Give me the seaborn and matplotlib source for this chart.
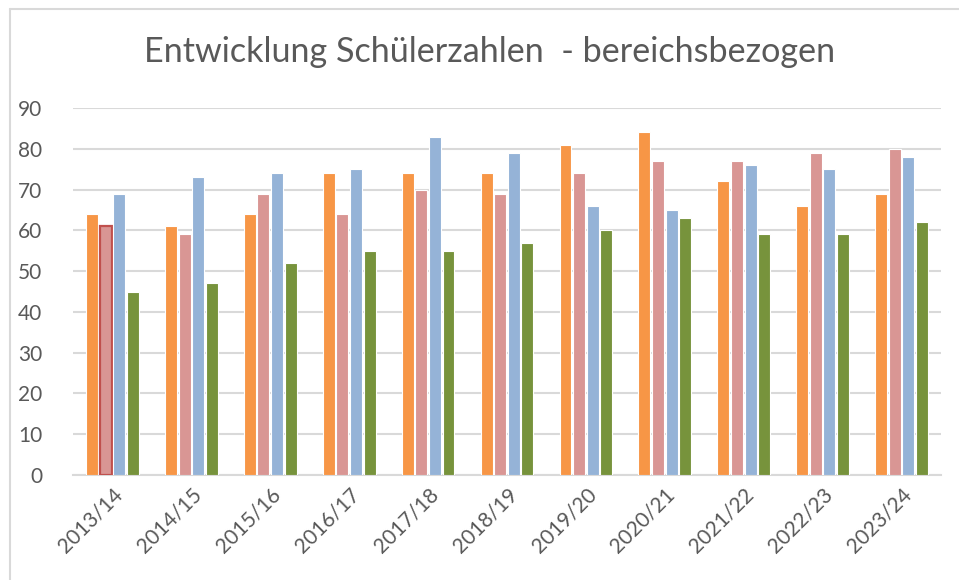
import pandas as pd
import seaborn as sns
import matplotlib.pyplot as plt
from matplotlib.lines import Line2D

jahre = ['2013/14', '2014/15', '2015/16', '2016/17', '2017/18', '2018/19',
         '2019/20', '2020/21', '2021/22', '2022/23', '2023/24']
bereich1 = [64, 61, 64, 74, 74, 74, 81, 84, 72, 66, 69]
bereich2 = [61, 59, 69, 64, 70, 69, 74, 77, 77, 79, 80]
bereich3 = [69, 73, 74, 75, 83, 79, 66, 65, 76, 75, 78]
bereich4 = [45, 47, 52, 55, 55, 57, 60, 63, 59, 59, 62]
farben = ['#F79646', '#D99694', '#95B3D7', '#77933C']

base = pd.DataFrame({'Jahr': jahre, 'Bereich 1': bereich1, 'Bereich 2': bereich2,
                     'Bereich 3': bereich3, 'Bereich 4': bereich4})
base = base.melt(id_vars='Jahr', var_name='Bereich', value_name='Schueler')

sns.set_theme(style='white')
plt.rcParams['font.family'] = ['Lato', 'DejaVu Sans']

fig = plt.figure(figsize=(9.59, 5.8), dpi=100)
ax = fig.add_axes([73/959, 1-475/580, (941-73)/959, (475-108)/580])

sns.barplot(data=base, x='Jahr', y='Schueler', hue='Bereich', palette=farben,
            saturation=1, width=0.69, gap=0.12, edgecolor='white', linewidth=0.8,
            legend=False, ax=ax, zorder=3)

# erster Balken Bereich 2 ist rot umrandet
rot = ax.containers[1].patches[0]
rot.set_edgecolor('#C0504D')
rot.set_linewidth(1.6)

ax.set_ylim(0, 90)
ax.set_yticks(range(0, 91, 10))
ax.set_xlim(-0.5, len(jahre) - 0.5)
ax.yaxis.grid(True, color='#D9D9D9', linewidth=1.5, zorder=0)
ax.set_axisbelow(True)
for s in ['top', 'right', 'left']:
    ax.spines[s].set_visible(False)
ax.spines['bottom'].set_color('#D9D9D9')
ax.spines['bottom'].set_linewidth(1.5)
ax.set_xlabel('')
ax.set_ylabel('')
ax.tick_params(axis='both', length=0, labelsize=15, labelcolor='#595959')
ax.tick_params(axis='y', pad=22)
plt.setp(ax.get_xticklabels(), rotation=45, ha='right', va='top',
         rotation_mode='anchor')
ax.tick_params(axis='x', pad=7)

fig.text(490/959, 1-52/580, 'Entwicklung Schülerzahlen  - bereichsbezogen',
         fontsize=24.6, color='#595959', ha='center', va='center')

# Rahmen des Diagrammbereichs
fig.add_artist(Line2D([10/959, 10/959], [0, 1-9/580], transform=fig.transFigure,
                      color='#D9D9D9', linewidth=1.5))
fig.add_artist(Line2D([10/959, 1], [1-9/580, 1-9/580], transform=fig.transFigure,
                      color='#D9D9D9', linewidth=1.5))

fig.savefig('out.png', dpi=100, facecolor='white')
